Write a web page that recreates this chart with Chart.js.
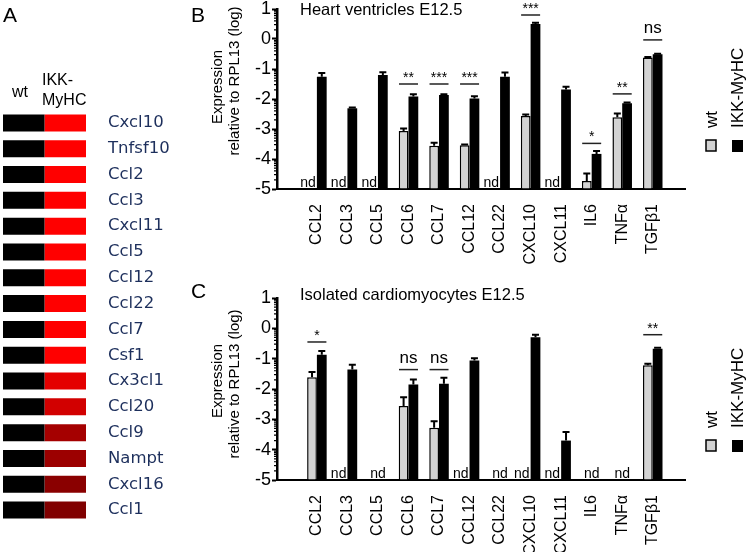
<!DOCTYPE html>
<html>
<head>
<meta charset="utf-8">
<script src="https://cdn.jsdelivr.net/npm/chart.js"></script>
<style>
body { margin: 0; background: #fff; }
#wrap { position: relative; width: 747px; height: 552px; overflow: hidden; font-family: 'Liberation Sans', Arial, sans-serif; }
canvas { position: absolute; }
.letter { position: absolute; font-size: 21px; line-height: 21px; color: #000; }
</style>
</head>
<body>
<div id="wrap">
  <canvas id="chartA" width="186" height="552" style="left:0;top:0"></canvas>
  <canvas id="chartB" width="557" height="270" style="left:190px;top:0"></canvas>
  <canvas id="chartC" width="557" height="282" style="left:190px;top:270px"></canvas>
  <div class="letter" style="left:3px;top:4px">A</div>
  <div class="letter" style="left:191px;top:4px">B</div>
  <div class="letter" style="left:191px;top:280px">C</div>
</div>
<script>
// panel A: microarray genes, IKK-MyHC induction colour
var genes = ['Cxcl10', 'Tnfsf10', 'Ccl2', 'Ccl3', 'Cxcl11', 'Ccl5', 'Ccl12', 'Ccl22',
             'Ccl7', 'Csf1', 'Cx3cl1', 'Ccl20', 'Ccl9', 'Nampt', 'Cxcl16', 'Ccl1'];
var geneColors = ['#ff0000', '#ff0000', '#ff0000', '#ff0000', '#ff0000', '#ff0000', '#ff0000', '#ff0000',
                  '#ff0000', '#ff0000', '#e40000', '#d20000', '#a50000', '#9c0000', '#8a0000', '#800000'];

// panels B and C: qPCR, log expression relative to RPL13 (null = nd)
var cytokines = ['CCL2', 'CCL3', 'CCL5', 'CCL6', 'CCL7', 'CCL12', 'CCL22', 'CXCL10', 'CXCL11', 'IL6', 'TNF\u03b1', 'TGF\u03b21'];
var yTicks = [-5, -4, -3, -2, -1, 0, 1];

var heartWt     = [null, null, null, -3.07, -3.56, -3.54, null, -2.57, null, -4.73, -2.61, -0.62];
var heartWtErr  = [0, 0, 0, 0.09, 0.10, 0.02, 0, 0.05, 0, 0.25, 0.13, 0.02];
var heartIkk    = [-1.26, -2.31, -1.20, -1.92, -1.87, -1.98, -1.26, 0.50, -1.68, -3.83, -2.14, -0.51];
var heartIkkErr = [0.13, 0.03, 0.09, 0.08, 0.03, 0.07, 0.14, 0.04, 0.09, 0.10, 0.02, 0.02];
var heartSig    = ['', '', '', '**', '***', '***', '', '***', '', '*', '**', 'ns'];
var heartSigAt  = [null, null, null, -1.5, -1.5, -1.5, null, 0.8, null, -3.48, -1.83, -0.03];
var heartNd     = ['wt', 'wt', 'wt', '', '', '', 'wt', '', 'wt', '', '', ''];

var cardioWt     = [-1.61, null, null, -2.56, -3.28, null, null, null, null, null, null, -1.22];
var cardioWtErr  = [0.17, 0, 0, 0.29, 0.22, 0, 0, 0, 0, 0, 0, 0.05];
var cardioIkk    = [-0.87, -1.36, null, -1.85, -1.83, -1.06, null, -0.29, -3.70, null, null, -0.67];
var cardioIkkErr = [0.12, 0.16, 0, 0.16, 0.20, 0.07, 0, 0.08, 0.28, 0, 0, 0.03];
var cardioSig    = ['*', '', '', 'ns', 'ns', '', '', '', '', '', '', '**'];
var cardioSigAt  = [-0.45, null, null, -1.36, -1.36, null, null, null, null, null, null, -0.21];
var cardioNd     = ['', 'wt', 'both', '', '', 'wt', 'both', 'wt', 'wt', 'both', 'both', ''];

Chart.defaults.font.family = "'Liberation Sans', Arial, sans-serif";
Chart.defaults.color = '#000';

// ---- panel A ----
var headerA = {
    id: 'headerA',
    afterDraw: function (chart) {
        var ctx = chart.ctx, a = chart.chartArea;
        ctx.save();
        ctx.fillStyle = '#000';
        ctx.font = "16px 'Liberation Sans', Arial, sans-serif";
        ctx.fillText('wt', a.left + 9, 97);
        ctx.fillText('IKK-', a.left + 39, 85);
        ctx.fillText('MyHC', a.left + 39, 105);
        ctx.restore();
    }
};

new Chart(document.getElementById('chartA'), {
    type: 'bar',
    data: {
        labels: genes,
        datasets: [
            { label: 'wt', data: genes.map(function () { return 1; }), backgroundColor: '#000' },
            { label: 'IKK-MyHC', data: genes.map(function () { return 1; }), backgroundColor: geneColors }
        ]
    },
    options: {
        indexAxis: 'y',
        responsive: false,
        animation: false,
        layout: { padding: { left: 3, top: 110, bottom: 29, right: 0 } },
        datasets: { bar: { categoryPercentage: 1, barPercentage: 0.66 } },
        scales: {
            x: { display: false, stacked: true, min: 0, max: 2 },
            y: {
                position: 'right',
                stacked: true,
                grid: { display: false },
                border: { display: false },
                ticks: { color: '#1d2f5c', padding: 14, font: { family: "'DejaVu Sans', Verdana, sans-serif", size: 16.5 } },
                afterFit: function (s) { s.width = 100; s.paddingTop = 0; s.paddingBottom = 0; }
            }
        },
        plugins: { legend: { display: false }, tooltip: { enabled: false } }
    },
    plugins: [headerA]
});

// ---- panels B and C ----
function makeAnnot(cfg) {
    return {
        id: 'annot',
        afterDraw: function (chart) {
            var ctx = chart.ctx, a = chart.chartArea;
            var xs = chart.scales.x, ys = chart.scales.y;
            ctx.save();
            ctx.fillStyle = '#000';
            ctx.strokeStyle = '#000';

            // log minor ticks
            ctx.lineWidth = 1.2;
            ctx.beginPath();
            for (var d = -5; d < 1; d++) {
                for (var k = 2; k <= 9; k++) {
                    var py = ys.getPixelForValue(d + Math.log10(k));
                    ctx.moveTo(a.left - 3, py);
                    ctx.lineTo(a.left, py);
                }
            }
            ctx.stroke();

            // error bars (upper only)
            var errs = [cfg.wtErr, cfg.ikkErr];
            var vals = [cfg.wt, cfg.ikk];
            ctx.lineWidth = 2;
            for (var s = 0; s < 2; s++) {
                var meta = chart.getDatasetMeta(s);
                meta.data.forEach(function (el, j) {
                    var v = vals[s][j], e = errs[s][j];
                    if (v === null || !e) return;
                    var top = ys.getPixelForValue(v + e);
                    ctx.beginPath();
                    ctx.moveTo(el.x, el.y);
                    ctx.lineTo(el.x, top);
                    ctx.moveTo(el.x - 3.5, top);
                    ctx.lineTo(el.x + 3.5, top);
                    ctx.stroke();
                });
            }

            // significance
            ctx.textAlign = 'center';
            ctx.textBaseline = 'alphabetic';
            ctx.lineWidth = 1.5;
            ctx.strokeStyle = '#222';
            cfg.sig.forEach(function (t, i) {
                if (!t) return;
                var x = xs.getPixelForValue(i), y = ys.getPixelForValue(cfg.sigAt[i]);
                ctx.beginPath();
                ctx.moveTo(x - 9.5, y);
                ctx.lineTo(x + 9.5, y);
                ctx.stroke();
                if (t === 'ns') {
                    ctx.font = "17px 'Liberation Sans', Arial, sans-serif";
                    ctx.fillText(t, x, y - 7);
                } else {
                    ctx.font = "14px 'Liberation Sans', Arial, sans-serif";
                    ctx.fillText(t, x, y - 2);
                }
            });

            // not detected
            ctx.font = "14px 'Liberation Sans', Arial, sans-serif";
            cfg.nd.forEach(function (t, i) {
                if (!t) return;
                var x = xs.getPixelForValue(i);
                if (t === 'wt') {
                    ctx.textAlign = 'right';
                    ctx.fillText('nd', x - 1, a.bottom - 2.5);
                } else {
                    ctx.textAlign = 'center';
                    ctx.fillText('nd', x, a.bottom - 2.5);
                }
            });

            // title
            ctx.textAlign = 'left';
            ctx.font = "16.5px 'Liberation Sans', Arial, sans-serif";
            ctx.fillText(cfg.title, 110, cfg.titleY);

            // y axis title
            ctx.font = "15px 'Liberation Sans', Arial, sans-serif";
            ctx.textAlign = 'center';
            ctx.save();
            ctx.translate(32, cfg.yt1);
            ctx.rotate(-Math.PI / 2);
            ctx.fillText('Expression', 0, 0);
            ctx.restore();
            ctx.save();
            ctx.translate(49, cfg.yt2);
            ctx.rotate(-Math.PI / 2);
            ctx.fillText('relative to RPL13 (log)', 0, 0);
            ctx.restore();

            // legend
            var ly = cfg.legendY;
            ctx.fillStyle = '#d3d3d3';
            ctx.fillRect(516, ly, 10, 11);
            ctx.lineWidth = 1.5;
            ctx.strokeStyle = '#000';
            ctx.strokeRect(516, ly, 10, 11);
            ctx.fillStyle = '#000';
            ctx.fillRect(542, ly, 11, 12);
            ctx.font = "17px 'Liberation Sans', Arial, sans-serif";
            ctx.textAlign = 'left';
            ctx.save();
            ctx.translate(527, ly - 12);
            ctx.rotate(-Math.PI / 2);
            ctx.fillText('wt', 0, 0);
            ctx.restore();
            ctx.save();
            ctx.translate(553, ly - 12);
            ctx.rotate(-Math.PI / 2);
            ctx.fillText('IKK-MyHC', 0, 0);
            ctx.restore();

            ctx.restore();
        }
    };
}

function drawPanel(id, cfg) {
    var pts = function (arr) { return arr.map(function (v, i) { return { x: i, y: v }; }); };
    new Chart(document.getElementById(id), {
        type: 'bar',
        data: {
            datasets: [
                { label: 'wt', data: pts(cfg.wt), backgroundColor: '#d3d3d3', borderColor: '#000', borderWidth: 1.5 },
                { label: 'IKK-MyHC', data: pts(cfg.ikk), backgroundColor: '#000', borderColor: '#000', borderWidth: 0 }
            ]
        },
        options: {
            responsive: false,
            animation: false,
            layout: { padding: { left: 0, top: cfg.top, right: 62, bottom: 0 } },
            datasets: { bar: { categoryPercentage: 0.64, barPercentage: 1, base: -5 } },
            scales: {
                x: {
                    type: 'linear',
                    min: -0.75,
                    max: 11.5,
                    grid: { display: false },
                    border: { display: true, color: '#000', width: 2 },
                    afterBuildTicks: function (s) { s.ticks = cytokines.map(function (c, i) { return { value: i }; }); },
                    ticks: {
                        autoSkip: false, minRotation: 90, maxRotation: 90, padding: 7,
                        font: { size: 16 },
                        callback: function (v) { return cytokines[v]; }
                    },
                    afterFit: function (s) { s.height = cfg.xh; s.paddingLeft = 0; s.paddingRight = 0; }
                },
                y: {
                    min: -5,
                    max: 1,
                    afterBuildTicks: function (s) { s.ticks = yTicks.map(function (v) { return { value: v }; }); },
                    ticks: { padding: 1, font: { size: 18 } },
                    grid: { drawOnChartArea: false, tickLength: 5, tickWidth: 2, tickColor: '#000' },
                    border: { color: '#000', width: 2.5 },
                    afterFit: function (s) { s.width = 87; s.paddingTop = 0; s.paddingBottom = 0; }
                }
            },
            plugins: { legend: { display: false }, tooltip: { enabled: false } }
        },
        plugins: [makeAnnot(cfg)]
    });
}

drawPanel('chartB', {
    wt: heartWt, wtErr: heartWtErr, ikk: heartIkk, ikkErr: heartIkkErr,
    sig: heartSig, sigAt: heartSigAt, nd: heartNd,
    title: 'Heart ventricles E12.5', titleY: 15,
    top: 9, xh: 81, yt1: 87, yt2: 81, legendY: 140
});

drawPanel('chartC', {
    wt: cardioWt, wtErr: cardioWtErr, ikk: cardioIkk, ikkErr: cardioIkkErr,
    sig: cardioSig, sigAt: cardioSigAt, nd: cardioNd,
    title: 'Isolated cardiomyocytes E12.5', titleY: 30,
    top: 28, xh: 72, yt1: 111, yt2: 114, legendY: 170
});
</script>
</body>
</html>
